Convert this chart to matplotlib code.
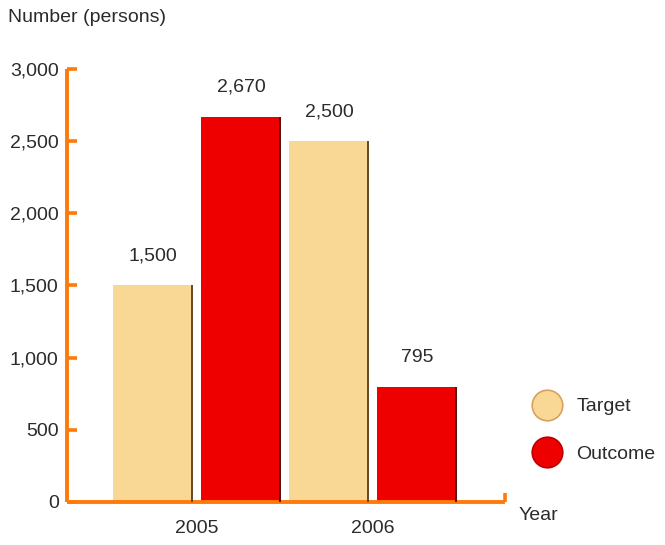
import numpy as np
import matplotlib.pyplot as plt
from matplotlib.lines import Line2D

plt.rcParams["font.family"] = ["Liberation Sans", "DejaVu Sans"]

# data
years = ["2005", "2006"]
target = [1500, 2500]
outcome = [2670, 795]
y_ticks = [0, 500, 1000, 1500, 2000, 2500, 3000]

AXIS_ORANGE = "#ff7a0a"
TARGET_COL = "#f9d896"
OUTCOME_COL = "#ee0000"
TEXT_COL = "#2b2b2b"
FS = 14

fig = plt.figure(figsize=(6.65, 5.45), dpi=100)
ax = fig.add_axes([0.1008, 0.0789, 0.6586, 0.7945])

x = np.arange(len(years))
width = 0.455
off = 0.25

# bars, each with a thin dark shade on its right edge
ax.bar(x - off, target, width, color=TARGET_COL, zorder=2)
ax.bar(x + off, outcome, width, color=OUTCOME_COL, zorder=2)
shade = 0.012
ax.bar(x - off + width / 2 - shade / 2, target, shade, color="#6b4a2a", zorder=3)
ax.bar(x + off + width / 2 - shade / 2, outcome, shade, color="#5a1010", zorder=3)

# value labels
for xi, v in zip(x - off, target):
    ax.annotate(f"{v:,}", (xi, v), xytext=(0, 15), textcoords="offset points",
                ha="center", va="bottom", fontsize=FS, color=TEXT_COL)
for xi, v in zip(x + off, outcome):
    ax.annotate(f"{v:,}", (xi, v), xytext=(0, 15), textcoords="offset points",
                ha="center", va="bottom", fontsize=FS, color=TEXT_COL)

ax.set_xlim(-0.739, 1.75)
ax.set_ylim(0, 3000)
ax.set_yticks(y_ticks)
ax.set_yticklabels([f"{t:,}" for t in y_ticks])
ax.set_xticks(x)
ax.set_xticklabels(years)

for s in ["top", "right"]:
    ax.spines[s].set_visible(False)
for s in ["left", "bottom"]:
    ax.spines[s].set_color(AXIS_ORANGE)
    ax.spines[s].set_linewidth(2.8)
    ax.spines[s].set_capstyle("butt")

ax.tick_params(axis="y", direction="in", length=7, width=2.6, color=AXIS_ORANGE,
               labelsize=FS, labelcolor=TEXT_COL, pad=6)
ax.tick_params(axis="x", length=0, labelsize=FS, labelcolor=TEXT_COL, pad=13)

# small upturn at the right end of the x axis
ax.plot([1.75, 1.75], [0, 60], color=AXIS_ORANGE, lw=2.6, clip_on=False,
        solid_capstyle="butt", zorder=4)

fig.text(0.012, 0.967, "Number (persons)", fontsize=FS, color=TEXT_COL,
         ha="left", va="center")
fig.text(0.780, 0.055, "Year", fontsize=FS, color=TEXT_COL, ha="left", va="center")

handles = [
    Line2D([], [], ls="", marker="o", markersize=22, markerfacecolor=TARGET_COL,
           markeredgecolor="#d9a060", markeredgewidth=1.2, label="Target"),
    Line2D([], [], ls="", marker="o", markersize=22, markerfacecolor=OUTCOME_COL,
           markeredgecolor="#c00000", markeredgewidth=1.2, label="Outcome"),
]
fig.legend(handles=handles, loc="center left", bbox_to_anchor=(0.799, 0.21),
           frameon=False, fontsize=FS, handletextpad=0.72, labelspacing=1.55,
           borderpad=0, borderaxespad=0, handlelength=1.6, labelcolor=TEXT_COL)

fig.savefig("out.png", dpi=100)
